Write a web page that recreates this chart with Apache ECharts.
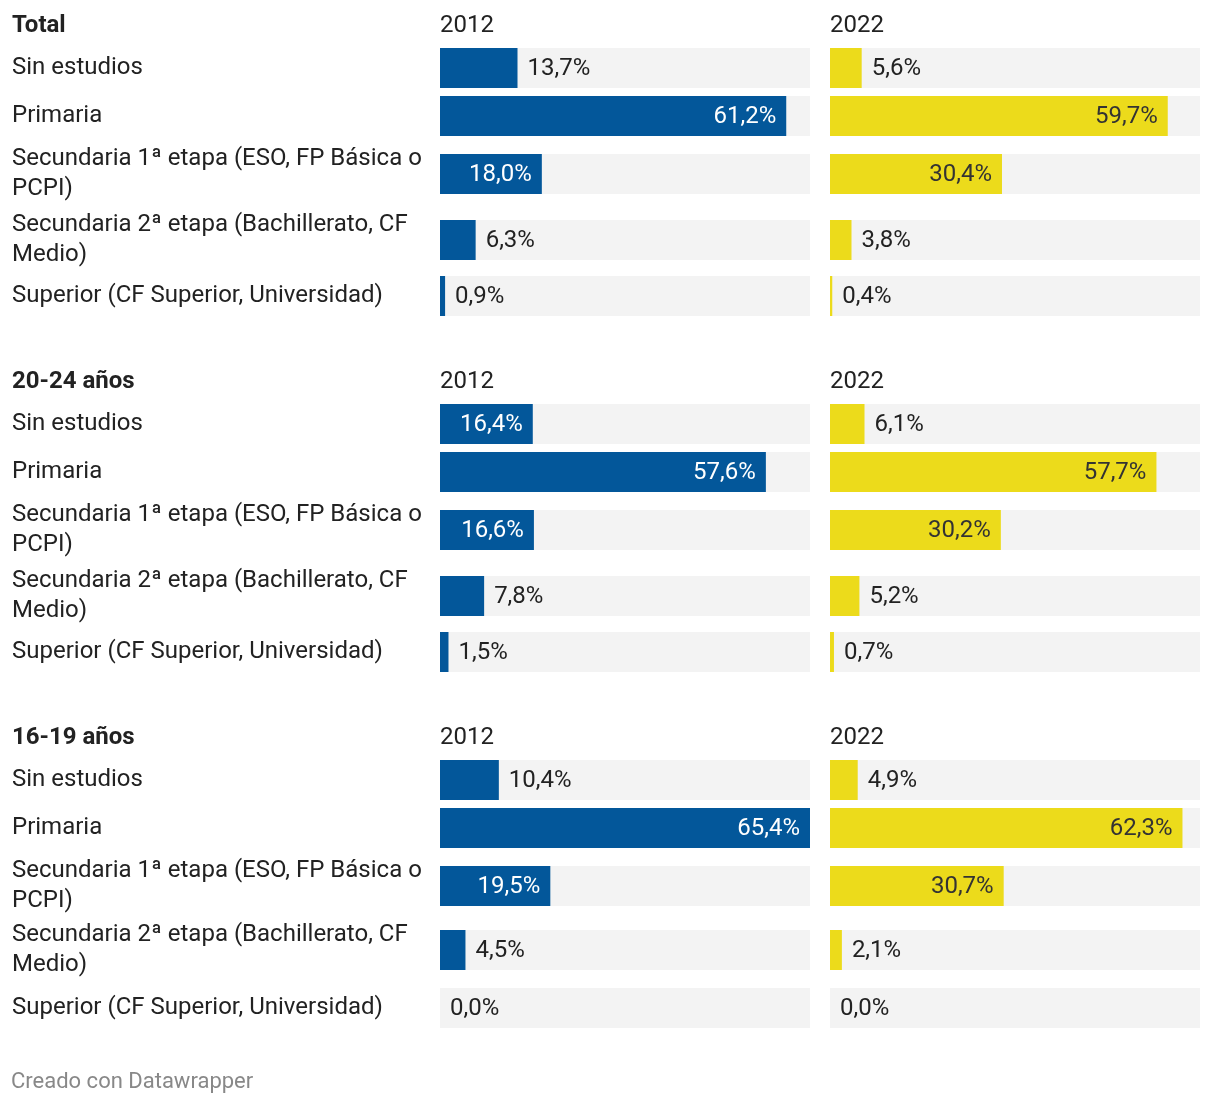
<!DOCTYPE html>
<html>
<head>
<meta charset="utf-8">
<script src="https://cdn.jsdelivr.net/npm/echarts@6/dist/echarts.min.js"></script>
<style>
html,body{margin:0;padding:0;background:#fff;}
#chart{width:1220px;height:1104px;}
</style>
</head>
<body>
<div id="chart"></div>
<script>
// ---- data ----
const panels = ['Total', '20-24 años', '16-19 años'];
const years = ['2012', '2022'];
const categories = [
  'Sin estudios',
  'Primaria',
  'Secundaria 1ª etapa (ESO, FP Básica o PCPI)',
  'Secundaria 2ª etapa (Bachillerato, CF Medio)',
  'Superior (CF Superior, Universidad)'
];
const total2012 = [13.7, 61.2, 18.0, 6.3, 0.9];
const total2022 = [5.6, 59.7, 30.4, 3.8, 0.4];
const a2024_2012 = [16.4, 57.6, 16.6, 7.8, 1.5];
const a2024_2022 = [6.1, 57.7, 30.2, 5.2, 0.7];
const a1619_2012 = [10.4, 65.4, 19.5, 4.5, 0.0];
const a1619_2022 = [4.9, 62.3, 30.7, 2.1, 0.0];
const footer = 'Creado con Datawrapper';

const values = [[total2012, total2022], [a2024_2012, a2024_2022], [a1619_2012, a1619_2022]];
const xMax = Math.max(...values.flat(2));

// ---- layout ----
const FONT = 'Roboto, "Open Sans", sans-serif';
const FS = 24;
const TEXT = '#222222';
const colors = ['#03579a', '#ecdb1b'];
const insideText = ['#ffffff', '#333333'];
const colLeft = [440, 830];
const colWidth = 370;
const labelWidth = 420;
const rowTops = [
  [48, 96, 154, 220, 276],
  [404, 452, 510, 576, 632],
  [760, 808, 866, 930, 988]
];
const headerY = [24, 380, 736];

// word wrap using canvas text measurement
const mctx = document.createElement('canvas').getContext('2d');
mctx.font = FS + 'px ' + FONT;
function wrap(text) {
  const words = text.split(' ');
  const lines = [];
  let cur = '';
  words.forEach(w => {
    const t = cur ? cur + ' ' + w : w;
    if (cur && mctx.measureText(t).width > labelWidth) { lines.push(cur); cur = w; }
    else cur = t;
  });
  if (cur) lines.push(cur);
  return lines.join('\n');
}

const grids = [], xAxes = [], yAxes = [], series = [], titles = [];
const fmt = v => v.toFixed(1).replace('.', ',') + '%';

panels.forEach((pname, p) => {
  titles.push({text: pname, left: 12, top: headerY[p] - 10, padding: 0,
    textStyle: {fontFamily: FONT, fontSize: FS, fontWeight: 'bold', color: TEXT}});
  years.forEach((yr, c) => {
    titles.push({text: yr, left: colLeft[c], top: headerY[p] - 10, padding: 0,
      textStyle: {fontFamily: FONT, fontSize: FS, fontWeight: 'normal', color: TEXT}});
  });
  categories.forEach((cat, r) => {
    years.forEach((yr, c) => {
      const idx = grids.length;
      grids.push({left: colLeft[c], top: rowTops[p][r], width: colWidth, height: 40, containLabel: false});
      xAxes.push({type: 'value', gridIndex: idx, min: 0, max: xMax, show: false});
      yAxes.push({
        type: 'category', gridIndex: idx, data: [cat],
        axisLine: {show: false}, axisTick: {show: false}, splitLine: {show: false},
        axisLabel: c === 0 ? {
          show: true, align: 'left', margin: colLeft[0] - 12,
          lineHeight: 30, padding: [3, 0, 0, 0],
          formatter: wrap,
          fontFamily: FONT, fontSize: FS, color: TEXT
        } : {show: false}
      });
      const v = values[p][c][r];
      const inside = v >= 15;
      series.push({
        type: 'bar', xAxisIndex: idx, yAxisIndex: idx,
        data: [v], barWidth: 40,
        showBackground: true,
        backgroundStyle: {color: '#f3f3f3'},
        itemStyle: {color: colors[c]},
        silent: true, animation: false,
        label: {
          show: true,
          position: inside ? 'insideRight' : 'right',
          distance: 10,
          offset: [0, 1],
          formatter: () => fmt(v),
          fontFamily: FONT, fontSize: FS,
          color: inside ? insideText[c] : TEXT
        }
      });
    });
  });
});

titles.push({text: footer, left: 11, top: 1071, padding: 0,
  textStyle: {fontFamily: FONT, fontSize: 22, fontWeight: 'normal', color: '#888888'}});

function render() {
  mctx.font = FS + 'px ' + FONT;
  const chart = echarts.init(document.getElementById('chart'), null, {renderer: 'canvas'});
  chart.setOption({
    animation: false,
    backgroundColor: '#ffffff',
    title: titles,
    grid: grids,
    xAxis: xAxes,
    yAxis: yAxes,
    series: series
  });
}
if (document.fonts && document.fonts.load) {
  document.fonts.load(FS + 'px Roboto').then(render, render);
} else {
  render();
}
</script>
</body>
</html>
